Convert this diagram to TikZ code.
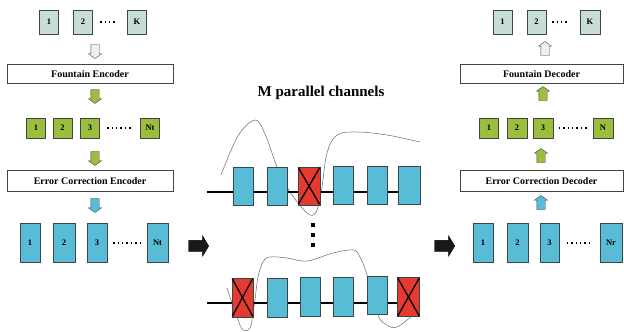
\documentclass[tikz,border=0pt]{standalone}
\usepackage{fontspec}
\setmainfont{Liberation Serif}
\usetikzlibrary{shapes.arrows,positioning}
\definecolor{tilegray}{RGB}{200,222,212}
\definecolor{pktgreen}{RGB}{157,190,60}
\definecolor{chblue}{RGB}{88,188,214}
\definecolor{lossred}{RGB}{229,58,47}
\definecolor{edgegray}{RGB}{60,70,70}
\definecolor{wavegray}{RGB}{105,105,105}

\begin{document}
\begin{tikzpicture}[
                x=1pt, y=-1pt,
                font=\bfseries\fontsize{8.5}{9}\selectfont,
                srcbox/.style={draw=edgegray, fill=tilegray, inner sep=0pt,
                        minimum width=19pt, minimum height=24pt},
                pktbox/.style={draw=edgegray, fill=pktgreen, inner sep=0pt,
                        minimum width=19pt, minimum height=20pt},
                chbox/.style={draw=edgegray, fill=chblue, inner sep=0pt,
                        minimum width=20pt, minimum height=39pt},
                lostbox/.style={chbox, fill=lossred},
                codec/.style={draw=edgegray, fill=white, inner sep=0pt,
                        minimum height=19pt, font=\bfseries\fontsize{10}{11}\selectfont},
                flow/.style={single arrow, draw=edgegray, inner xsep=0pt, inner ysep=4pt,
                        minimum height=14pt, single arrow head extend=2.5pt,
                        single arrow tip angle=110},
                down/.style={flow, rotate=-90},
                up/.style={flow, rotate=90},
                bigarr/.style={single arrow, draw=black, fill=black!90, inner xsep=0pt,
                        inner ysep=5.5pt, minimum height=20pt, single arrow head extend=4.5pt,
                        single arrow tip angle=118},
                dotrow/.style={line width=1.4pt, dash pattern=on 1.4pt off 3pt},
                wire/.style={line width=1.4pt},
                wave/.style={wavegray, line width=0.5pt},
                xmark/.style={line width=1.3pt, shorten <=1pt, shorten >=1pt}
                ]
                \useasboundingbox (0,0) rectangle (624,332);

                % sender side
                \node[srcbox] (s1) at (49,22) {1};
                \node[srcbox] (s2) at (83,22) {2};
                \node[srcbox] (sK) at (137,22) {K};
                \draw[dotrow, shorten <=7.5pt, shorten >=10.5pt] (s2.east) -- (sK.west);
                \node[down, fill=tilegray!40] (a1) at (95,50) {};
                \node[codec, minimum width=166pt] (enc) at (90,74) {Fountain Encoder};
                \node[down, fill=pktgreen] (a2) at (95,95) {};
                \node[pktbox] (g1) at (36,128) {1};
                \node[pktbox] (g2) at (62.5,128) {2};
                \node[pktbox] (g3) at (90,128) {3};
                \node[pktbox] (gN) at (150,128) {Nt};
                \draw[dotrow, shorten <=7.5pt, shorten >=7.5pt] (g3.east) -- (gN.west);
                \node[down, fill=pktgreen] (a3) at (95,157) {};
                \node[codec, minimum width=166pt, minimum height=21pt] (ece) at (90,181) {Error Correction Encoder};
                \node[down, fill=chblue] (a4) at (95,204) {};
                \node[chbox] (b1) at (30,243) {1};
                \node[chbox, minimum width=22pt] (b2) at (64,243) {2};
                \node[chbox] (b3) at (97,243) {3};
                \node[chbox, minimum width=21pt] (bN) at (157.5,243) {Nt};
                \draw[dotrow, shorten <=6pt, shorten >=7pt] (b3.east) -- (bN.west);
                \node[bigarr] (tx) at (197,246) {};

                % channels
                \node[font=\bfseries\fontsize{15}{16}\selectfont] (title) at (321,93) {M parallel channels};
                \coordinate (ch1) at (207,192);
                \coordinate (ch2) at (207,303);
                \draw[wave] plot[smooth, tension=0.6] coordinates {(221,175) (238,136) (255,120) (265,134)
                        (277,167) (287,187) (298,203) (310,215) (317,210) (322,187) (327,153)
                        (337,135) (357,132) (387,135) (420,142)};
                \draw[wave] plot[smooth, tension=0.6] coordinates {(227,288) (237,317) (243,330) (250,328)
                        (253,313) (255,300) (258,277) (263,262) (270,257) (287,258) (307,261)
                        (333,253) (353,250) (360,257) (367,275) (378,315) (387,325) (397,327) (413,315)};
                \draw[wire] (ch1) -- (409,192);
                \draw[wire] (ch2) -- (409,303);
                \node[chbox, minimum height=38pt] (p1) at (243,186) {};
                \node[chbox, minimum height=38pt] (p2) at (277,186) {};
                \node[lostbox, minimum height=38pt, minimum width=22pt] (p3) at (309,186) {};
                \node[chbox, minimum height=38pt] (p4) at (343,185) {};
                \node[chbox, minimum height=38pt] (p5) at (377,185) {};
                \node[chbox, minimum height=38pt, minimum width=22pt] (p6) at (409,185) {};
                \draw[xmark] (p3.north west) -- (p3.south east);
                \draw[xmark] (p3.north east) -- (p3.south west);
                \draw[line width=3.5pt, dash pattern=on 3.5pt off 6.5pt] (313,223) -- (313,249);
                \node[lostbox, minimum width=21pt] (q1) at (242.5,297.5) {};
                \node[chbox] (q2) at (277,297.5) {};
                \node[chbox] (q3) at (310,297) {};
                \node[chbox] (q4) at (343,297) {};
                \node[chbox, minimum height=38pt] (q5) at (377,295) {};
                \node[lostbox, minimum width=22pt] (q6) at (408.5,297) {};
                \draw[xmark] (q1.north west) -- (q1.south east);
                \draw[xmark] (q1.north east) -- (q1.south west);
                \draw[xmark] (q6.north west) -- (q6.south east);
                \draw[xmark] (q6.north east) -- (q6.south west);

                % receiver side
                \node[bigarr] (rx) at (443,246) {};
                \node[chbox] (c1) at (483,243) {1};
                \node[chbox, minimum width=21pt] (c2) at (517.5,243) {2};
                \node[chbox, minimum width=19pt] (c3) at (549.5,243) {3};
                \node[chbox, minimum width=22pt] (cN) at (611,243) {Nr};
                \draw[dotrow, shorten <=7.5pt, shorten >=7pt] (c3.east) -- (cN.west);
                \node[up, fill=chblue] (a8) at (541,204) {};
                \node[codec, minimum width=163pt, minimum height=21pt] (ecd) at (541.5,181) {Error Correction Decoder};
                \node[up, fill=pktgreen] (a7) at (541,157) {};
                \node[pktbox] (h1) at (489,128) {1};
                \node[pktbox, minimum width=20pt] (h2) at (517,128) {2};
                \node[pktbox, minimum width=20pt] (h3) at (543,128) {3};
                \node[pktbox, minimum width=20pt] (hN) at (603,128) {N};
                \draw[dotrow, shorten <=5.5pt, shorten >=5.5pt] (h3.east) -- (hN.west);
                \node[up, fill=pktgreen] (a6) at (543,95) {};
                \node[codec, minimum width=163pt] (dec) at (541.5,74) {Fountain Decoder};
                \node[up, fill=tilegray!40] (a5) at (545,50) {};
                \node[srcbox] (t1) at (502.5,22) {1};
                \node[srcbox] (t2) at (536.5,22) {2};
                \node[srcbox, minimum width=20pt] (tK) at (590,22) {K};
                \draw[dotrow, shorten <=6pt, shorten >=10.5pt] (t2.east) -- (tK.west);
            \end{tikzpicture}
\end{document}
